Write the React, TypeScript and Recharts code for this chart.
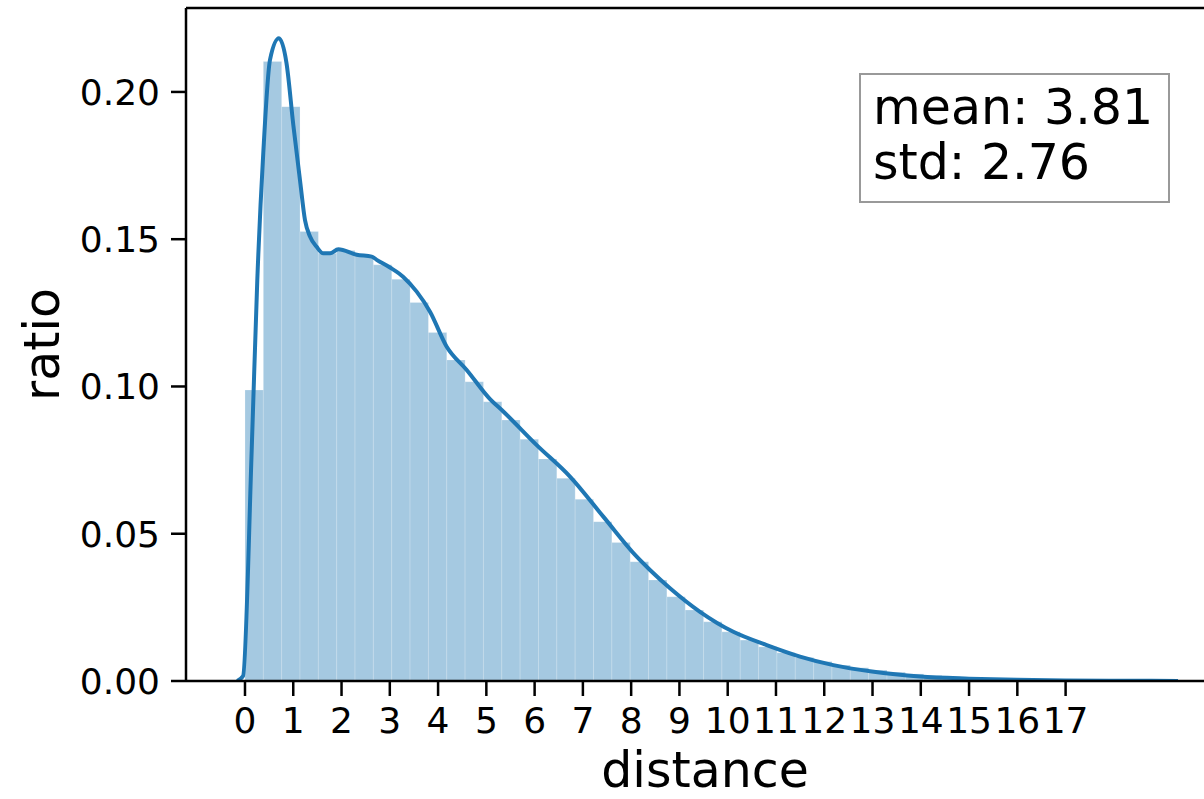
import React from "react";
import { ComposedChart, Line, XAxis, YAxis, ReferenceArea, ReferenceLine } from "recharts";

// histogram: 50 bins of equal width starting at 0
const binWidth = 0.38;
const binHeights = [
  0.0988, 0.2103, 0.195, 0.1526, 0.1452, 0.1462, 0.1445, 0.1413, 0.1364, 0.1285,
  0.1183, 0.109, 0.1016, 0.0948, 0.0886, 0.0821, 0.0754, 0.0688, 0.0617, 0.0541,
  0.047, 0.0405, 0.0343, 0.0286, 0.0241, 0.0201, 0.0167, 0.0139, 0.0116, 0.0096,
  0.008, 0.0066, 0.0054, 0.0045, 0.0037, 0.003, 0.0024, 0.0019, 0.0015, 0.0012,
  0.001, 0.0008, 0.0006, 0.0005, 0.0004, 0.0003, 0.0002, 0.0002, 0.0001, 0.0001,
];

// kde curve
const kdeX = [
  -0.166, -0.04, 0.139, 0.255, 0.379, 0.518, 0.704, 0.86, 1.001, 1.139,
  1.243, 1.347, 1.485, 1.622, 1.761, 1.933, 2.314, 2.625, 2.728, 3.004,
  3.28, 3.557, 3.833, 4.179, 4.593, 5.076, 5.351, 6.043, 6.733, 7.423,
  8.115, 8.39, 8.805, 9.426, 10.116, 10.808, 11.498, 12.188, 12.989, 13.984,
  14.999, 15.993, 16.988, 18.127, 19.329,
];
const kdeY = [
  0, 0.0017, 0.0784, 0.1362, 0.1793, 0.2109, 0.2182, 0.2098, 0.1888, 0.1701,
  0.1565, 0.1509, 0.1474, 0.1452, 0.1452, 0.1466, 0.1447, 0.1441, 0.143, 0.1404,
  0.1372, 0.1322, 0.1254, 0.1135, 0.1056, 0.0957, 0.0915, 0.0801, 0.0694, 0.0558,
  0.0422, 0.0377, 0.0315, 0.0235, 0.0167, 0.0122, 0.0083, 0.0054, 0.0032, 0.0015,
  0.0008, 0.0004, 0.0002, 0.0001, 0,
];

const xTicks = [0, 1, 2, 3, 4, 5, 6, 7, 8, 9, 10, 11, 12, 13, 14, 15, 16, 17];
const yTicks = [0, 0.05, 0.1, 0.15, 0.2];
const statLines = ["mean: 3.81", "std: 2.76"];

const X_DOMAIN: [number, number] = [-1.222, 19.867];
const Y_MAX = 0.2285;
const FONT = "DejaVu Sans";
const BLUE = "#1f77b4";

const kdeData = kdeX.map((x, i) => ({ x, y: kdeY[i] }));

const App: React.FC = () => {
  const axisStroke = { stroke: "#000", strokeWidth: 2.5 };
  const tickStyle = { fill: "#000", fontSize: 36, fontFamily: FONT };

  return (
    <div style={{ position: "absolute", left: 0, top: 0, width: 1204, height: 799, background: "#fff" }}>
      <ComposedChart
        width={1204}
        height={799}
        data={kdeData}
        margin={{ top: 8, right: 0, bottom: 0, left: 0 }}
      >
        <XAxis
          dataKey="x"
          type="number"
          domain={X_DOMAIN}
          allowDataOverflow
          ticks={xTicks}
          interval={0}
          height={118}
          tickSize={15}
          tickMargin={11}
          axisLine={axisStroke}
          tickLine={axisStroke}
          tick={tickStyle}
        />
        <YAxis
          type="number"
          domain={[0, Y_MAX]}
          allowDataOverflow
          ticks={yTicks}
          interval={0}
          width={186}
          tickSize={15}
          tickMargin={11}
          tickFormatter={(v: number) => v.toFixed(2)}
          axisLine={axisStroke}
          tickLine={axisStroke}
          tick={tickStyle}
        />
        {/* top spine */}
        <ReferenceLine y={Y_MAX} stroke="#000" strokeWidth={2.5} ifOverflow="visible" />

        {binHeights.map((h, i) => (
          <ReferenceArea
            key={i}
            x1={i * binWidth}
            x2={(i + 1) * binWidth}
            y1={0}
            y2={h}
            fill={BLUE}
            fillOpacity={0.4}
            stroke="#ffffff"
            strokeOpacity={0.2}
            strokeWidth={1}
            ifOverflow="visible"
          />
        ))}

        <Line
          dataKey="y"
          type="monotone"
          stroke={BLUE}
          strokeWidth={4}
          dot={false}
          activeDot={false}
          isAnimationActive={false}
        />
      </ComposedChart>

      {/* axis labels and the stats box */}
      <svg
        width={1204}
        height={799}
        style={{ position: "absolute", left: 0, top: 0, pointerEvents: "none" }}
        fontFamily={FONT}
      >
        <text x={705} y={787} fontSize={49} textAnchor="middle" fill="#000">
          distance
        </text>
        <text transform="translate(59, 344.5) rotate(-90)" fontSize={49} textAnchor="middle" fill="#000">
          ratio
        </text>
        <rect x={860} y={74} width={309} height={128} fill="#fff" stroke="#999" strokeWidth={2} />
        {statLines.map((s, i) => (
          <text key={s} x={873} y={124 + i * 55} fontSize={49} fill="#000">
            {s}
          </text>
        ))}
      </svg>
    </div>
  );
};

export default App;
